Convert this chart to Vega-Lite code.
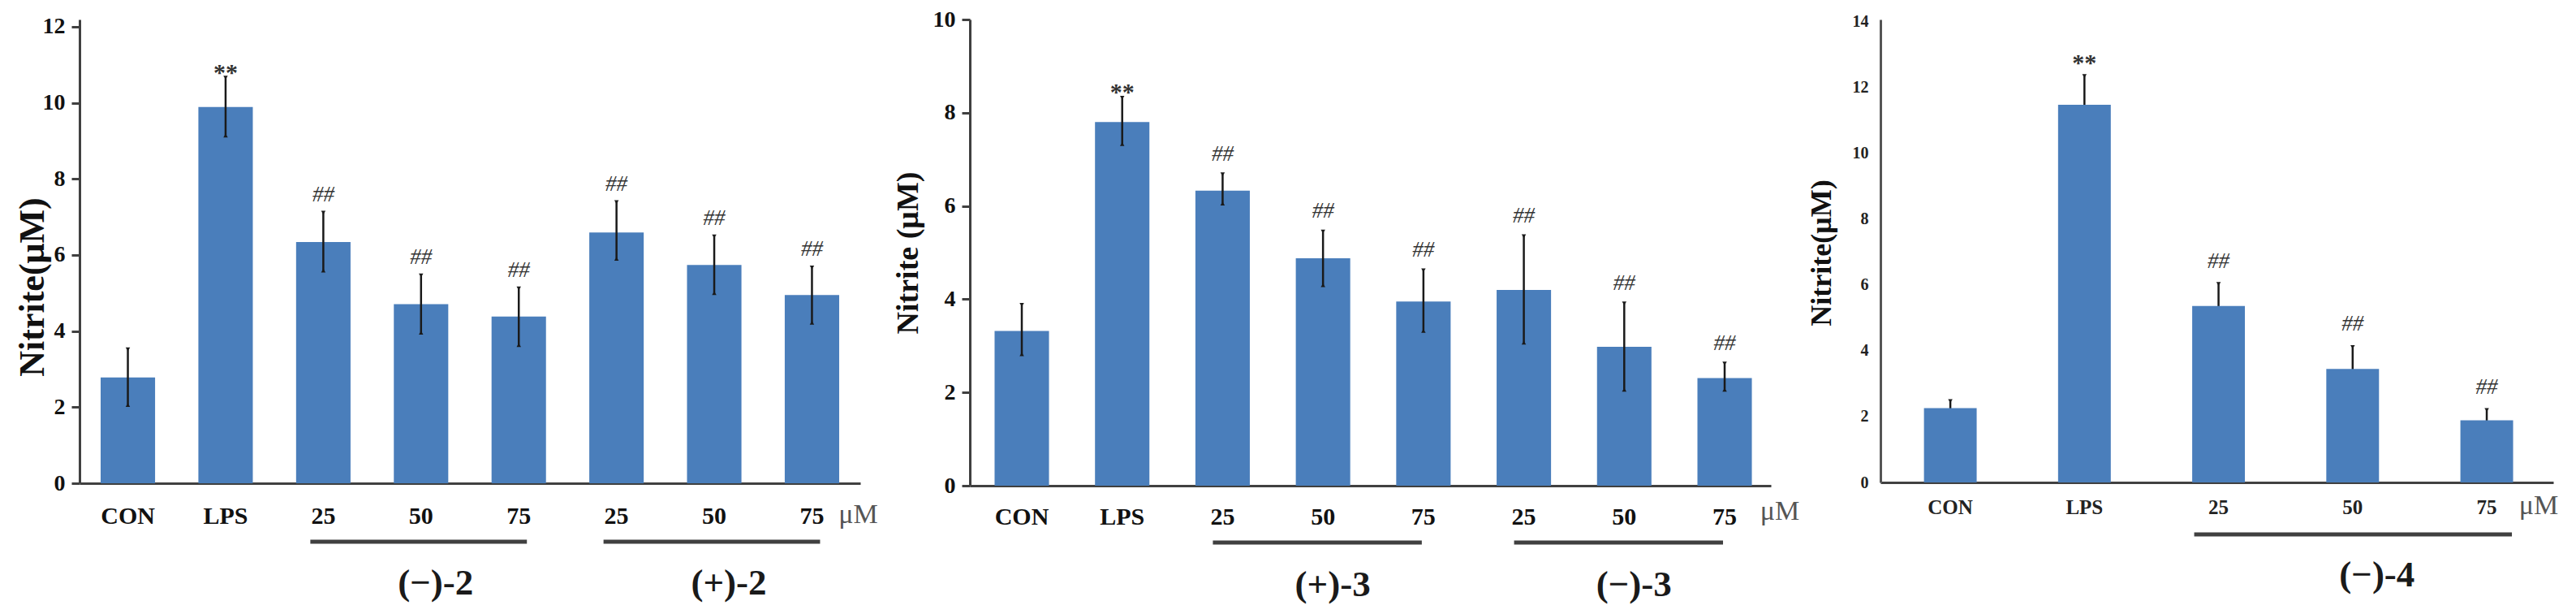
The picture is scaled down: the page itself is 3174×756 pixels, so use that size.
{
  "$schema": "https://vega.github.io/schema/vega-lite/v6.json",
  "autosize": {"type": "pad"},
  "padding": {"left": 18, "top": 10, "right": 21, "bottom": 13},
  "background": "white",
  "bounds": "flush",
  "spacing": 135,
  "config": {
    "view": {"stroke": null},
    "font": "Liberation Serif",
    "text": {"font": "Liberation Serif"}
  },
  "datasets": {
    "p1": [
      {"cat": "CON", "mean": 2.78, "lo": 2.06, "hi": 3.52, "sig": ""},
      {"cat": "LPS", "mean": 9.89, "lo": 9.14, "hi": 10.66, "sig": "**"},
      {"cat": "25a", "mean": 6.34, "lo": 5.59, "hi": 7.11, "sig": "##"},
      {"cat": "50a", "mean": 4.71, "lo": 3.96, "hi": 5.46, "sig": "##"},
      {"cat": "75a", "mean": 4.38, "lo": 3.63, "hi": 5.12, "sig": "##"},
      {"cat": "25b", "mean": 6.59, "lo": 5.90, "hi": 7.39, "sig": "##"},
      {"cat": "50b", "mean": 5.74, "lo": 5.00, "hi": 6.49, "sig": "##"},
      {"cat": "75b", "mean": 4.95, "lo": 4.22, "hi": 5.67, "sig": "##"}
    ],
    "g1": [
      {"from": "25a", "to": "75a", "mid": "50a", "name": "(−)-2"},
      {"from": "25b", "to": "75b", "mid": "50b", "name": "(+)-2"}
    ],
    "p2": [
      {"cat": "CON", "mean": 3.32, "lo": 2.82, "hi": 3.88, "sig": ""},
      {"cat": "LPS", "mean": 7.80, "lo": 7.33, "hi": 8.32, "sig": "**"},
      {"cat": "25a", "mean": 6.33, "lo": 6.05, "hi": 6.68, "sig": "##"},
      {"cat": "50a", "mean": 4.88, "lo": 4.30, "hi": 5.45, "sig": "##"},
      {"cat": "75a", "mean": 3.95, "lo": 3.32, "hi": 4.62, "sig": "##"},
      {"cat": "25b", "mean": 4.20, "lo": 3.07, "hi": 5.35, "sig": "##"},
      {"cat": "50b", "mean": 2.98, "lo": 2.06, "hi": 3.91, "sig": "##"},
      {"cat": "75b", "mean": 2.31, "lo": 2.06, "hi": 2.62, "sig": "##"}
    ],
    "g2": [
      {"from": "25a", "to": "75a", "mid": "50a", "name": "(+)-3"},
      {"from": "25b", "to": "75b", "mid": "50b", "name": "(−)-3"}
    ],
    "p3": [
      {"cat": "CON", "mean": 2.26, "lo": 2.05, "hi": 2.47, "sig": ""},
      {"cat": "LPS", "mean": 11.48, "lo": 10.61, "hi": 12.35, "sig": "**"},
      {"cat": "25", "mean": 5.36, "lo": 4.69, "hi": 6.03, "sig": "##"},
      {"cat": "50", "mean": 3.45, "lo": 2.79, "hi": 4.11, "sig": "##"},
      {"cat": "75", "mean": 1.89, "lo": 1.58, "hi": 2.20, "sig": "##"}
    ],
    "g3": [
      {"from": "25", "to": "75", "mid": "50", "name": "(−)-4"}
    ]
  },
  "hconcat": [
    {
      "width": 962,
      "height": 571,
      "encoding": {
        "x": {
          "field": "cat", "type": "nominal",
          "scale": {"domain": ["CON", "LPS", "25a", "50a", "75a", "25b", "50b", "75b"], "paddingInner": 0.443, "paddingOuter": 0.216, "align": 0.5},
          "axis": {"title": null, "labelExpr": "replace(replace(datum.value, 'a', ''), 'b', '')", "labelAngle": 0, "ticks": false, "domainColor": "#404040", "domainWidth": 3, "labelFont": "Liberation Serif", "labelFontWeight": "bold", "labelFontSize": 30, "labelColor": "#111111", "labelPadding": 25}
        }
      },
      "layer": [
        {"data": {"name": "p1"}, "mark": {"type": "bar", "color": "#4a7ebb"},
         "encoding": {"y": {
          "field": "mean", "type": "quantitative",
          "scale": {"domain": [0, 12.19], "nice": false, "zero": true},
          "axis": {"title": "Nitrite(μM)", "values": [0, 2, 4, 6, 8, 10, 12], "format": "d", "grid": false, "domainColor": "#404040", "domainWidth": 3, "tickColor": "#404040", "tickWidth": 3, "tickSize": 10, "labelFont": "Liberation Serif", "labelFontWeight": "bold", "labelFontSize": 28, "labelColor": "#111111", "labelPadding": 8, "titleFont": "Liberation Serif", "titleFontWeight": "bold", "titleFontSize": 44, "titleColor": "#111111", "titleX": -58, "titleY": 329, "titleBaseline": "middle", "titleAlign": "center", "titleAngle": 270}
        }}},
        {"data": {"name": "p1"}, "mark": {"type": "rule", "color": "#1a1a1a", "strokeWidth": 2.5}, "encoding": {"y": {"field": "lo", "type": "quantitative"}, "y2": {"field": "hi"}}},
        {"data": {"name": "p1"}, "mark": {"type": "point", "shape": "triangle-down", "filled": true, "color": "#1a1a1a", "size": 30, "opacity": 1}, "encoding": {"y": {"field": "hi", "type": "quantitative"}}},
        {"data": {"name": "p1"}, "mark": {"type": "point", "shape": "triangle-up", "filled": true, "color": "#1a1a1a", "size": 30, "opacity": 1}, "encoding": {"y": {"field": "lo", "type": "quantitative"}}},
        {"data": {"name": "p1"}, "transform": [{"filter": "datum.sig == '##'"}], "mark": {"type": "text", "font": "Liberation Serif", "fontSize": 27, "fontStyle": "italic", "color": "#333333", "baseline": "middle", "dy": -22}, "encoding": {"y": {"field": "hi", "type": "quantitative"}, "text": {"field": "sig"}}},
        {"data": {"name": "p1"}, "transform": [{"filter": "datum.sig == '**'"}], "mark": {"type": "text", "font": "Liberation Serif", "fontSize": 30, "fontWeight": "bold", "color": "#333333", "baseline": "middle", "dy": -6}, "encoding": {"y": {"field": "hi", "type": "quantitative"}, "text": {"field": "sig"}}},
        {"data": {"name": "g1"}, "mark": {"type": "rule", "color": "#404040", "strokeWidth": 5, "yOffset": 72, "xOffset": -16, "x2Offset": 10}, "encoding": {"x": {"field": "from", "type": "nominal"}, "x2": {"field": "to"}, "y": {"datum": 0, "type": "quantitative"}}},
        {"data": {"name": "g1"}, "mark": {"type": "text", "font": "Liberation Serif", "fontSize": 45, "fontWeight": "bold", "color": "#1a1a1a", "baseline": "middle", "dy": 123, "dx": 18}, "encoding": {"x": {"field": "mid", "type": "nominal"}, "y": {"datum": 0, "type": "quantitative"}, "text": {"field": "name"}}},
        {"data": {"values": [{"unit": "μM", "at": "75b"}]}, "mark": {"type": "text", "font": "Liberation Serif", "fontSize": 34, "color": "#555555", "baseline": "middle", "dy": 39, "dx": 57}, "encoding": {"x": {"field": "at", "type": "nominal"}, "y": {"datum": 0, "type": "quantitative"}, "text": {"field": "unit"}}}
      ]
    },
    {
      "width": 987,
      "height": 574,
      "encoding": {
        "x": {
          "field": "cat", "type": "nominal",
          "scale": {"domain": ["CON", "LPS", "25a", "50a", "75a", "25b", "50b", "75b"], "paddingInner": 0.458, "paddingOuter": 0.218, "align": 0.565},
          "axis": {"title": null, "labelExpr": "replace(replace(datum.value, 'a', ''), 'b', '')", "labelAngle": 0, "ticks": false, "domainColor": "#404040", "domainWidth": 3, "labelFont": "Liberation Serif", "labelFontWeight": "bold", "labelFontSize": 30, "labelColor": "#111111", "labelPadding": 23}
        }
      },
      "layer": [
        {"data": {"name": "p2"}, "mark": {"type": "bar", "color": "#4a7ebb"},
         "encoding": {"y": {
          "field": "mean", "type": "quantitative",
          "scale": {"domain": [0, 10], "nice": false, "zero": true},
          "axis": {"title": "Nitrite (μM)", "values": [0, 2, 4, 6, 8, 10], "format": "d", "grid": false, "domainColor": "#404040", "domainWidth": 3, "tickColor": "#404040", "tickWidth": 3, "tickSize": 10, "labelFont": "Liberation Serif", "labelFontWeight": "bold", "labelFontSize": 28, "labelColor": "#111111", "labelPadding": 8, "titleFont": "Liberation Serif", "titleFontWeight": "bold", "titleFontSize": 38, "titleColor": "#111111", "titleX": -76, "titleY": 287, "titleBaseline": "middle", "titleAlign": "center", "titleAngle": 270}
        }}},
        {"data": {"name": "p2"}, "mark": {"type": "rule", "color": "#1a1a1a", "strokeWidth": 2.5}, "encoding": {"y": {"field": "lo", "type": "quantitative"}, "y2": {"field": "hi"}}},
        {"data": {"name": "p2"}, "mark": {"type": "point", "shape": "triangle-down", "filled": true, "color": "#1a1a1a", "size": 30, "opacity": 1}, "encoding": {"y": {"field": "hi", "type": "quantitative"}}},
        {"data": {"name": "p2"}, "mark": {"type": "point", "shape": "triangle-up", "filled": true, "color": "#1a1a1a", "size": 30, "opacity": 1}, "encoding": {"y": {"field": "lo", "type": "quantitative"}}},
        {"data": {"name": "p2"}, "transform": [{"filter": "datum.sig == '##'"}], "mark": {"type": "text", "font": "Liberation Serif", "fontSize": 27, "fontStyle": "italic", "color": "#333333", "baseline": "middle", "dy": -25}, "encoding": {"y": {"field": "hi", "type": "quantitative"}, "text": {"field": "sig"}}},
        {"data": {"name": "p2"}, "transform": [{"filter": "datum.sig == '**'"}], "mark": {"type": "text", "font": "Liberation Serif", "fontSize": 30, "fontWeight": "bold", "color": "#333333", "baseline": "middle", "dy": -6}, "encoding": {"y": {"field": "hi", "type": "quantitative"}, "text": {"field": "sig"}}},
        {"data": {"name": "g2"}, "mark": {"type": "rule", "color": "#404040", "strokeWidth": 5, "yOffset": 70, "xOffset": -12, "x2Offset": -2}, "encoding": {"x": {"field": "from", "type": "nominal"}, "x2": {"field": "to"}, "y": {"datum": 0, "type": "quantitative"}}},
        {"data": {"name": "g2"}, "mark": {"type": "text", "font": "Liberation Serif", "fontSize": 45, "fontWeight": "bold", "color": "#1a1a1a", "baseline": "middle", "dy": 122, "dx": 12}, "encoding": {"x": {"field": "mid", "type": "nominal"}, "y": {"datum": 0, "type": "quantitative"}, "text": {"field": "name"}}},
        {"data": {"values": [{"unit": "μM", "at": "75b"}]}, "mark": {"type": "text", "font": "Liberation Serif", "fontSize": 34, "color": "#555555", "baseline": "middle", "dy": 32, "dx": 68}, "encoding": {"x": {"field": "at", "type": "nominal"}, "y": {"datum": 0, "type": "quantitative"}, "text": {"field": "unit"}}}
      ]
    },
    {
      "width": 829,
      "height": 570,
      "encoding": {
        "x": {
          "field": "cat", "type": "nominal",
          "scale": {"domain": ["CON", "LPS", "25", "50", "75"], "paddingInner": 0.607, "paddingOuter": 0.312, "align": 0.52},
          "axis": {"title": null, "labelAngle": 0, "ticks": false, "domainColor": "#404040", "domainWidth": 3, "labelFont": "Liberation Serif", "labelFontWeight": "bold", "labelFontSize": 25, "labelColor": "#222222", "labelPadding": 18}
        }
      },
      "layer": [
        {"data": {"name": "p3"}, "mark": {"type": "rule", "color": "#1a1a1a", "strokeWidth": 2.5}, "encoding": {"y": {"field": "lo", "type": "quantitative"}, "y2": {"field": "hi"}}},
        {"data": {"name": "p3"}, "mark": {"type": "bar", "color": "#4a7ebb"},
         "encoding": {"y": {
          "field": "mean", "type": "quantitative",
          "scale": {"domain": [0, 14.07], "nice": false, "zero": true},
          "axis": {"title": "Nitrite(μM)", "values": [0, 2, 4, 6, 8, 10, 12, 14], "format": "d", "grid": false, "domainColor": "#555555", "domainWidth": 3, "ticks": false, "labelFont": "Liberation Serif", "labelFontWeight": "bold", "labelFontSize": 20, "labelColor": "#222222", "labelPadding": 15, "titleFont": "Liberation Serif", "titleFontWeight": "bold", "titleFontSize": 36, "titleColor": "#111111", "titleX": -73, "titleY": 287, "titleBaseline": "middle", "titleAlign": "center", "titleAngle": 270}
        }}},
        {"data": {"name": "p3"}, "mark": {"type": "point", "shape": "triangle-down", "filled": true, "color": "#1a1a1a", "size": 30, "opacity": 1}, "encoding": {"y": {"field": "hi", "type": "quantitative"}}},
        {"data": {"name": "p3"}, "transform": [{"filter": "datum.sig == '##'"}], "mark": {"type": "text", "font": "Liberation Serif", "fontSize": 27, "fontStyle": "italic", "color": "#333333", "baseline": "middle", "dy": -28}, "encoding": {"y": {"field": "hi", "type": "quantitative"}, "text": {"field": "sig"}}},
        {"data": {"name": "p3"}, "transform": [{"filter": "datum.sig == '**'"}], "mark": {"type": "text", "font": "Liberation Serif", "fontSize": 30, "fontWeight": "bold", "color": "#333333", "baseline": "middle", "dy": -16}, "encoding": {"y": {"field": "hi", "type": "quantitative"}, "text": {"field": "sig"}}},
        {"data": {"name": "g3"}, "mark": {"type": "rule", "color": "#404040", "strokeWidth": 5, "yOffset": 64, "xOffset": -30, "x2Offset": 31}, "encoding": {"x": {"field": "from", "type": "nominal"}, "x2": {"field": "to"}, "y": {"datum": 0, "type": "quantitative"}}},
        {"data": {"name": "g3"}, "mark": {"type": "text", "font": "Liberation Serif", "fontSize": 45, "fontWeight": "bold", "color": "#1a1a1a", "baseline": "middle", "dy": 114, "dx": 30}, "encoding": {"x": {"field": "mid", "type": "nominal"}, "y": {"datum": 0, "type": "quantitative"}, "text": {"field": "name"}}},
        {"data": {"values": [{"unit": "μM", "at": "75"}]}, "mark": {"type": "text", "font": "Liberation Serif", "fontSize": 34, "color": "#555555", "baseline": "middle", "dy": 29, "dx": 64}, "encoding": {"x": {"field": "at", "type": "nominal"}, "y": {"datum": 0, "type": "quantitative"}, "text": {"field": "unit"}}}
      ]
    }
  ]
}
